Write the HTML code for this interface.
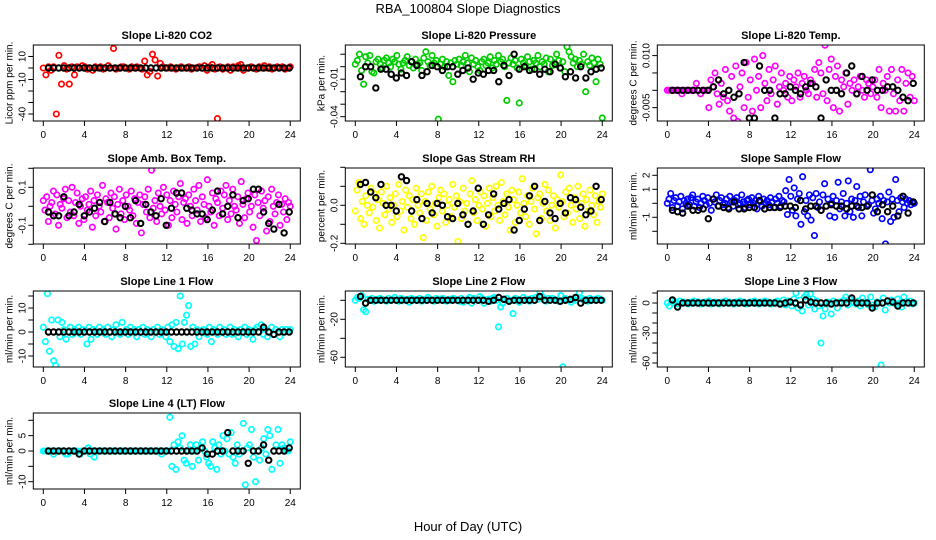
<!DOCTYPE html>
<html><head><meta charset="utf-8"><style>
html,body{margin:0;padding:0;background:#fff;}
svg{display:block;font-family:"Liberation Sans",Arial,sans-serif;}
</style></head><body>
<svg id="chart" width="936" height="540" viewBox="0 0 936 540" xmlns="http://www.w3.org/2000/svg">
<rect width="936" height="540" fill="#fff"/>
<text x="468" y="13" text-anchor="middle" font-size="13">RBA_100804  Slope Diagnostics</text>
<text x="468" y="531" text-anchor="middle" font-size="13">Hour of Day (UTC)</text>
<g id="panels"></g>
</svg>
<script>
const xTicks = [0,4,8,12,16,20,24];

const co2Vals = [0,-6,1,-2,1,-40,11,-14,2,-1,-14,1,-6,1,0,2,1,-1,0,-2,1,0,1,-1,0,2,0,17,-1,0,1,1,0,-1,1,0,1,0,-1,6,-6,-3,12,7,-7,4,1,0,0,1,0,-1,0,1,0,0,1,-1,0,0,1,0,2,-2,1,3,-1,-44,1,-1,0,1,-2,1,0,2,3,-2,0,0,1,0,-1,1,0,2,0,1,-1,0,1,0,1,-1,0,1];
const co2Black = [0,0,0,0,0,0,0,0,0,0,0,0,0,0,0,0,0,0,0,0,0,0,0,0,0,0,0,0,0,0,0,0,0,0,0,0,0,0,0,0,0,0,0,0,0,0,0,0];

const presVals = [2,5,10,-3,-14,8,3,9,-4,-5,4,6,2,-1,5,7,3,0,6,4,9,2,-2,3,5,8,1,4,-1,6,2,3,-3,7,12,4,1,9,3,5,-42,2,6,0,4,-7,3,-12,5,2,6,1,4,9,3,-4,7,2,5,0,-3,4,6,1,3,8,-1,5,2,9,4,6,0,-27,3,7,2,5,-1,-29,6,3,1,8,4,-2,5,3,9,0,4,2,7,-4,6,1,3,10,5,-1,4,-4,16,12,8,3,6,0,5,2,10,-20,4,1,7,3,-12,6,2,-41];
const presBlack = [-8,0,0,-17,-2,-2,-6,-9,-5,-7,4,1,-7,-4,1,0,-3,0,0,-6,-3,-1,-10,-5,-6,-3,-3,-12,1,-7,10,-2,0,-3,-2,-6,-2,-4,2,-1,-8,-4,-9,0,-9,-4,-2,-1];

const tempVals = [0,0,0,0,0,0,0,-1,0,0,0,0,0,0,2,0,-1,0,0,0,-5,3,1,5,-1,-4,2,-2,6,-3,-6,4,-8,7,-9,1,5,-5,8,-2,3,-6,9,0,4,-5,10,2,-3,6,-1,3,7,-4,1,5,0,2,-2,4,-3,3,1,5,-2,2,4,0,-1,3,2,6,-2,8,5,-1,13,-3,6,9,-5,4,7,-6,3,1,5,-4,2,0,3,-1,1,4,0,-2,3,2,-1,1,3,-2,6,-5,2,0,4,-6,6,-1,-6,3,-3,6,-6,2,5,-2,4,-3];
const tempBlack = [0,0,0,0,0,0,0,0,1,3,-1,0,-2,-1,8,-8,-8,7,0,0,-8,-1,-1,1,0,-1,1,2,1,-8,3,0,0,-1,5,7,-1,4,0,3,0,0,1,1,0,-2,-3,2];

const ambVals = [3,-2,5,-8,0,2,8,-4,6,-10,1,-1,4,9,-6,3,-3,10,-5,2,7,-9,0,4,-7,5,-2,1,8,-11,3,-5,6,0,-3,11,-8,4,2,-6,7,-1,5,-12,1,9,-4,3,-7,6,0,-2,8,-5,4,-9,2,6,-14,1,5,-3,9,-6,19,-1,3,-8,7,0,-4,10,-2,6,-10,3,-6,8,1,-3,5,12,-7,2,4,-9,6,0,-5,9,3,-2,11,-8,5,1,-6,14,0,-3,7,-10,4,2,-5,8,-1,6,11,-7,3,-4,9,0,-2,5,-9,13,1,-6,4,7,-3,0,-11,6,-18,2,-5,8,-1,3,-13,5,-8,9,0,-4,2,6,-10,1,-3,4,-7,2,0];
const ambBlack = [-3,-5,-5,5,-5,-3,1,-5,-3,-1,2,-8,2,-4,-6,0,-6,3,-9,1,-3,-5,4,-10,-1,7,7,-1,-2,-4,-4,-7,-2,8,-4,0,6,-6,3,4,9,9,-3,-9,-12,1,-14,-3];

const rhVals = [-3,8,12,-7,2,-10,5,0,-4,9,-1,6,-8,3,-12,7,1,-5,10,-2,4,-9,0,6,-6,11,-3,2,-13,8,-1,5,-7,3,-10,9,0,-4,6,-17,2,-8,7,-2,10,-5,1,-11,4,8,-3,6,-9,0,3,-6,11,-1,5,-19,2,-7,9,-3,1,-10,6,13,-4,3,-8,0,7,-2,5,-11,1,9,-6,4,-3,10,0,-8,12,2,-5,6,-1,-13,8,3,-9,0,7,-4,14,1,-6,5,-10,2,9,-2,-15,4,6,-7,1,11,-3,8,-8,0,5,-12,3,-1,16,2,-6,7,-4,9,0,-9,4,-2,10,-7,1,6,-11,3,-3,8,0,-5,5,-9,2,-1,6];
const rhBlack = [11,12,7,4,11,0,0,-3,15,13,-3,3,-7,1,-4,1,0,-6,-7,1,-5,-10,-3,9,-10,-5,6,-2,1,3,-13,-8,-2,5,10,-8,2,-4,-7,1,-4,4,3,-1,-5,-3,10,3];

const flowVals = [0,3,7,-3,2,4,-2,1,5,-4,2,0,3,-1,4,6,-2,1,3,-3,0,5,2,-1,4,0,-5,3,1,6,-2,2,4,-1,0,3,-3,5,1,-2,2,4,-1,0,6,1,-3,2,3,-1,4,0,2,-4,5,1,-2,3,0,2,-1,4,1,-3,3,0,5,-2,2,1,9,-8,17,5,-5,11,-9,3,7,-15,19,-6,2,-9,6,-12,4,-23,7,-3,1,-5,6,14,-2,3,-9,0,5,-10,2,15,-4,1,7,-9,0,16,-6,3,-10,2,12,-3,5,-9,1,6,-2,-1,24,2,-7,-4,3,0,5,-11,2,-29,1,8,-13,3,-10,17,2,-6,4,1,-3,3,0,2,-1,1,0];
const flowBlack = [-5,-6,-7,-2,-5,-5,-4,-11,3,-2,-3,-4,1,-4,-4,-3,-3,2,-4,-3,-3,-3,-2,-2,-3,2,-4,-2,-2,-5,-2,-1,-2,-2,-4,-2,-2,-3,-2,6,-6,-1,-6,-2,-9,5,-7,1];

const l1Vals = [2,-4,16,-8,5,-12,-14,5,-2,4,1,-3,0,2,-1,1,0,2,-1,1,0,-5,2,-3,1,0,-1,2,0,1,-1,2,0,-2,1,3,0,-1,4,0,1,-1,2,0,1,-2,1,0,2,-1,1,0,-2,1,0,2,-1,1,0,-2,2,-4,3,-6,4,-7,15,-5,4,7,11,-6,2,-5,1,-2,0,1,0,-1,2,-4,1,0,-1,2,0,1,-1,0,2,-1,1,0,-2,1,0,2,-1,1,0,-3,1,2,0,3,-1,1,-2,0,2,-1,1,0,-2,1,0,1,0,1];
const l1Black = [0,0,0,0,0,0,0,0,0,0,0,0,0,0,0,0,0,0,0,0,0,0,0,0,0,0,0,0,0,0,0,0,0,0,0,0,0,0,0,0,0,0,2,0,-1,0,0,0];

const l2Vals = [0,3,2,5,-10,-12,1,0,2,-1,1,0,2,1,0,-1,2,0,1,3,0,-1,2,1,0,1,-2,2,0,1,0,2,-1,1,0,3,1,0,-1,2,0,1,2,0,-1,1,0,2,1,0,-1,2,-2,0,1,3,-3,2,1,0,4,2,-3,0,1,-1,2,3,0,-28,-7,-3,1,2,-1,0,-14,2,1,-2,0,3,0,1,-1,2,0,3,1,8,4,0,-1,2,0,2,1,0,-1,5,-70,2,1,0,-2,1,0,3,8,2,0,1,-1,2,0,1,0,2,1,0];
const l2Black = [4,-3,0,0,0,0,0,0,0,0,0,0,0,0,0,0,0,0,0,0,0,0,0,0,0,-1,0,3,1,-1,0,0,0,0,0,4,0,0,0,-1,0,1,3,-3,0,0,0,0];

const l3Vals = [0,-3,2,0,1,-1,2,0,1,0,-1,1,0,2,0,1,-1,0,1,0,2,-1,0,1,0,-1,1,0,2,0,1,0,-1,1,0,2,0,1,-1,0,1,0,2,0,-1,1,0,2,0,1,-1,0,1,2,0,-1,3,-2,2,1,-3,4,10,-5,3,-8,6,8,-2,9,4,-6,2,-3,-40,-13,-6,1,0,-11,2,0,-5,1,0,3,6,-2,4,1,0,-1,2,-3,5,1,0,-2,6,-2,-4,1,0,-62,5,-7,2,0,3,0,-1,4,0,-4,6,1,0,2,-1,0];
const l3Black = [3,-4,0,0,0,0,0,0,0,0,0,0,0,0,0,0,0,0,0,0,0,-1,0,1,0,-2,3,1,0,0,0,-1,0,0,0,5,0,0,0,-5,0,0,2,1,-3,0,0,0];

const l4Vals = [0,0,0,0,0,-1,0,0,0,0,0,-1,-1,0,0,0,0,0,-1,0,0,0,1,-1,0,-2,0,0,0,0,0,0,0,0,0,0,0,0,0,0,0,0,0,0,0,0,0,0,0,0,0,0,0,0,0,0,0,0,-1,0,0,0,11,-5,2,-6,3,1,5,-3,-4,0,2,-5,0,2,-3,1,3,0,-2,-4,-5,3,1,-6,2,-1,5,0,4,-1,6,-2,-4,2,-1,0,9,-11,1,2,7,-2,-10,0,-3,1,4,-1,7,5,-6,0,2,7,-4,2,1,0,0,3];
const l4Black = [0,0,0,0,0,0,-1,0,0,0,0,0,0,0,0,0,0,0,0,0,0,0,0,0,0,0,0,0,0,0,1,-1,-1,0,0,6,0,0,0,-4,0,0,2,-3,0,0,0,1];

const panels = [
 {name:"co2",title:"Slope Li-820 CO2",ylab:"Licor ppm per min.",col:"#ff0000",c:0,r:0,z:23,s:1.15,vals:co2Vals,blk:co2Black,ticks:[10,0,-10,-20,-30,-40],tl:{"10":"10","-10":"-10","-40":"-40"}},
 {name:"pressure",title:"Slope Li-820 Pressure",ylab:"kPa per min.",col:"#00cd00",c:1,r:0,z:21.7,s:1.25,vals:presVals,blk:presBlack,ticks:[10,0,-10,-20,-30,-40],tl:{"-10":"-0.01","-40":"-0.04"}},
 {name:"temp",title:"Slope Li-820 Temp.",ylab:"degrees C per min.",col:"#ff00ff",c:2,r:0,z:45.3,s:3.47,vals:tempVals,blk:tempBlack,ticks:[10,5,0,-5],tl:{"10":"0.010","-5":"-0.005"}},
 {name:"amb-box-temp",title:"Slope Amb. Box Temp.",ylab:"degrees C per min.",col:"#ff00ff",c:0,r:1,z:38.3,s:1.9,vals:ambVals,blk:ambBlack,ticks:[20,10,0,-10,-20],tl:{"10":"0.1","-10":"-0.1"}},
 {name:"gas-stream-rh",title:"Slope Gas Stream RH",ylab:"percent per min.",col:"#ffff00",c:1,r:1,z:37.3,s:1.9,vals:rhVals,blk:rhBlack,ticks:[20,10,0,-10,-20],tl:{"0":"0.0","-20":"-0.2"}},
 {name:"sample-flow",title:"Slope Sample Flow",ylab:"ml/min per min.",col:"#0000ff",c:2,r:1,z:35.3,s:1.4,vals:flowVals,blk:flowBlack,ticks:[20,10,0,-10,-20,-30],tl:{"20":"2","10":"1","-10":"-1","-30":"-3"}},
 {name:"line1-flow",title:"Slope Line 1 Flow",ylab:"ml/min per min.",col:"#00ffff",c:0,r:2,z:41,s:2.4,vals:l1Vals,blk:l1Black,ticks:[15,10,5,0,-5,-10],tl:{"10":"10","0":"0","-10":"-10"}},
 {name:"line2-flow",title:"Slope Line 2 Flow",ylab:"ml/min per min.",col:"#00ffff",c:1,r:2,z:9.3,s:0.95,vals:l2Vals,blk:l2Black,ticks:[0,-20,-40,-60],tl:{"-20":"-20","-60":"-60"}},
 {name:"line3-flow",title:"Slope Line 3 Flow",ylab:"ml/min per min.",col:"#00ffff",c:2,r:2,z:12,s:1.0,vals:l3Vals,blk:l3Black,ticks:[10,0,-10,-20,-30,-40,-50,-60],tl:{"0":"0","-30":"-30","-60":"-60"}},
 {name:"line4-flow",title:"Slope Line 4 (LT) Flow",ylab:"ml/min per min.",col:"#00ffff",c:0,r:3,z:38,s:3.07,vals:l4Vals,blk:l4Black,ticks:[10,5,0,-5,-10],tl:{"5":"5","0":"0","-10":"-10"}}
];

const NS="http://www.w3.org/2000/svg";
const root=document.getElementById('panels');
const rowTop=[45,168,291,413];
const BW=267,BH=76;
function mk(tag,attrs,parent){const e=document.createElementNS(NS,tag);for(const k in attrs)e.setAttribute(k,attrs[k]);parent.appendChild(e);return e;}

panels.forEach(p=>{
  const L=33.3+312*p.c, T=rowTop[p.r];
  const xs=h=>L+10+h*10.29;
  const ys=v=>T+p.z-v*p.s;
  const g=mk('g',{},root);
  
  
  const cid='clip-'+p.name;
  const cp=mk('clipPath',{id:cid},g);
  mk('rect',{x:L,y:T,width:BW,height:BH},cp);
  const t=mk('text',{x:L+BW/2,y:T-6,'text-anchor':'middle','font-size':'11','font-weight':'bold'},g);
  t.textContent=p.title;
  
  
  const yl=mk('text',{x:0,y:0,'text-anchor':'middle','font-size':'10',transform:`translate(${L-21},${T+BH/2}) rotate(-90)`},g);
  yl.textContent=p.ylab;
  
  
  const pts=mk('g',{'clip-path':`url(#${cid})`,fill:'none','stroke-width':'1.7'},g);
  const n=p.vals.length;
  p.vals.forEach((v,i)=>{
    const c=mk('circle',{cx:xs(24*i/(n-1)),cy:ys(v),r:2.7,stroke:p.col},pts);
    
    
  });
  const nb=p.blk.length;
  p.blk.forEach((v,i)=>{
    const c=mk('circle',{cx:xs(0.5+23.4*i/(nb-1)),cy:ys(v),r:2.7,stroke:'#000','stroke-width':'2'},pts);
    
    
  });
  const box=mk('rect',{x:L,y:T,width:BW,height:BH,fill:'none',stroke:'#000','stroke-width':'1'},g);
  
  
  const ax=mk('g',{stroke:'#000','stroke-width':'1'},g);
  
  
  mk('line',{x1:xs(0),x2:xs(24),y1:T+BH,y2:T+BH},ax);
  xTicks.forEach(h=>{
    mk('line',{x1:xs(h),x2:xs(h),y1:T+BH,y2:T+BH+5},ax);
    const tx=mk('text',{x:xs(h),y:T+BH+17,'text-anchor':'middle','font-size':'10',stroke:'none',fill:'#000'},g);
    tx.textContent=h;
    
    
  });
  p.ticks.forEach(v=>{
    const y=ys(v);
    if(y<T-1||y>T+BH+1) return;
    mk('line',{x1:L-5,x2:L,y1:y,y2:y},ax);
    const lab=p.tl[String(v)];
    if(lab){
      const tx=mk('text',{x:0,y:0,'text-anchor':'middle','font-size':'10',transform:`translate(${L-8},${y}) rotate(-90)`},g);
      tx.textContent=lab;
      
      
    }
  });
});
</script>
</body></html>
